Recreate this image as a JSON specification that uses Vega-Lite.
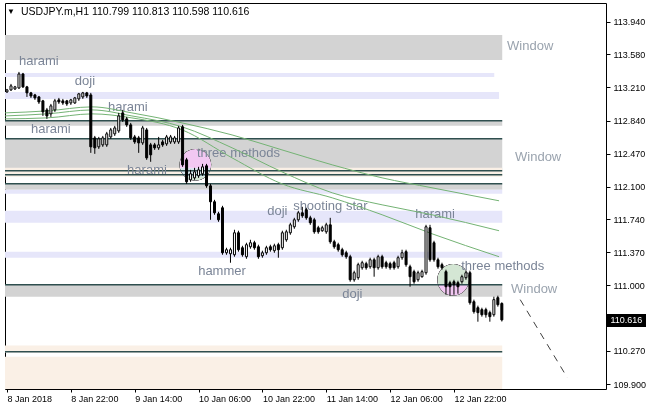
{
  "$schema": "https://vega.github.io/schema/vega-lite/v6.json",
  "width": 601,
  "height": 386,
  "padding": {"left": 3, "top": 3, "right": 0, "bottom": 0},
  "background": "white",
  "config": {
    "view": {"stroke": "black", "strokeWidth": 1, "fill": "white"},
    "axis": {"labelOverlap": false},
    "scale": {"continuousPadding": 0}
  },
  "datasets": {
    "bands": [
      {"x1": -0.5, "x2": 124.1, "p1": 113.795, "p2": 113.516, "k": "gray"},
      {"x1": -0.5, "x2": 122.1, "p1": 113.372, "p2": 113.327, "k": "lav"},
      {"x1": -0.5, "x2": 123.3, "p1": 113.160, "p2": 113.082, "k": "lav"},
      {"x1": -0.5, "x2": 124.1, "p1": 112.837, "p2": 112.781, "k": "gray"},
      {"x1": -0.5, "x2": 124.1, "p1": 112.636, "p2": 112.290, "k": "gray"},
      {"x1": -0.5, "x2": 124.1, "p1": 112.313, "p2": 112.212, "k": "linen"},
      {"x1": -0.5, "x2": 124.1, "p1": 112.134, "p2": 112.067, "k": "gray"},
      {"x1": -0.5, "x2": 124.1, "p1": 112.067, "p2": 112.023, "k": "lav"},
      {"x1": -0.5, "x2": 124.1, "p1": 111.833, "p2": 111.700, "k": "lav"},
      {"x1": -0.5, "x2": 124.1, "p1": 111.377, "p2": 111.310, "k": "lav"},
      {"x1": -0.5, "x2": 124.1, "p1": 111.009, "p2": 110.875, "k": "gray"},
      {"x1": -0.5, "x2": 124.1, "p1": 110.329, "p2": 110.251, "k": "linen"},
      {"x1": -0.5, "x2": 124.1, "p1": 110.206, "p2": 109.845, "k": "linen"}
    ],
    "levels": [
      {"x1": -0.5, "x2": 124.1, "p": 112.837},
      {"x1": -0.5, "x2": 124.1, "p": 112.636},
      {"x1": -0.5, "x2": 124.1, "p": 112.279},
      {"x1": -0.5, "x2": 124.1, "p": 112.235},
      {"x1": -0.5, "x2": 124.1, "p": 112.134},
      {"x1": -0.5, "x2": 124.1, "p": 111.009},
      {"x1": -0.5, "x2": 124.1, "p": 110.262}
    ],
    "circles": [
      {"i": 47.2, "p": 112.346},
      {"i": 111.8, "p": 111.064}
    ],
    "ma": [
      {"ma": "a", "i": -0.5, "p": 112.926}, {"ma": "a", "i": 10, "p": 112.948}, {"ma": "a", "i": 21.3, "p": 112.993}, {"ma": "a", "i": 31.3, "p": 112.926}, {"ma": "a", "i": 43.9, "p": 112.814}, {"ma": "a", "i": 56.4, "p": 112.680}, {"ma": "a", "i": 68.9, "p": 112.513}, {"ma": "a", "i": 81.5, "p": 112.346}, {"ma": "a", "i": 94, "p": 112.201}, {"ma": "a", "i": 106.5, "p": 112.090}, {"ma": "a", "i": 123.3, "p": 111.945},
      {"ma": "b", "i": -0.5, "p": 112.892}, {"ma": "b", "i": 10, "p": 112.915}, {"ma": "b", "i": 21.3, "p": 112.959}, {"ma": "b", "i": 31.3, "p": 112.892}, {"ma": "b", "i": 43.9, "p": 112.770}, {"ma": "b", "i": 56.4, "p": 112.536}, {"ma": "b", "i": 68.9, "p": 112.268}, {"ma": "b", "i": 81.5, "p": 112.034}, {"ma": "b", "i": 94, "p": 111.900}, {"ma": "b", "i": 106.5, "p": 111.789}, {"ma": "b", "i": 123.3, "p": 111.611},
      {"ma": "c", "i": -0.5, "p": 112.859}, {"ma": "c", "i": 10, "p": 112.870}, {"ma": "c", "i": 21.3, "p": 112.915}, {"ma": "c", "i": 31.3, "p": 112.870}, {"ma": "c", "i": 43.9, "p": 112.736}, {"ma": "c", "i": 56.4, "p": 112.424}, {"ma": "c", "i": 68.9, "p": 112.134}, {"ma": "c", "i": 81.5, "p": 111.978}, {"ma": "c", "i": 94, "p": 111.789}, {"ma": "c", "i": 106.5, "p": 111.577}, {"ma": "c", "i": 123.3, "p": 111.321}
    ],
    "forecast": [
      {"i": 128.6, "p": 110.842},
      {"i": 140.4, "p": 109.972}
    ],
    "patterns": [
      {"t": "harami", "i": 3, "p": 113.505},
      {"t": "doji", "i": 17, "p": 113.282},
      {"t": "harami", "i": 25.3, "p": 112.993},
      {"t": "harami", "i": 6, "p": 112.747},
      {"t": "three methods", "i": 47.6, "p": 112.480},
      {"t": "harami", "i": 30.1, "p": 112.290},
      {"t": "doji", "i": 65.2, "p": 111.833},
      {"t": "shooting star", "i": 71.7, "p": 111.889},
      {"t": "harami", "i": 102.3, "p": 111.800},
      {"t": "hammer", "i": 47.9, "p": 111.165},
      {"t": "three methods", "i": 113.8, "p": 111.221},
      {"t": "doji", "i": 84, "p": 110.908}
    ],
    "windows": [
      {"t": "Window", "i": 125.3, "p": 113.672},
      {"t": "Window", "i": 127.3, "p": 112.435},
      {"t": "Window", "i": 126.3, "p": 110.964}
    ],
    "header": [
      {"t": "▼", "i": 0, "p": 114.05, "s": "a"},
      {"t": "USDJPY.m,H1  110.799 110.813 110.598 110.616", "i": 3.5, "p": 114.05, "s": "b"}
    ],
    "candles": [
      {"i":0,"o":113.160,"h":113.193,"l":113.149,"c":113.182},
      {"i":1,"o":113.182,"h":113.249,"l":113.171,"c":113.227},
      {"i":2,"o":113.193,"h":113.227,"l":113.182,"c":113.216},
      {"i":3,"o":113.204,"h":113.383,"l":113.193,"c":113.360},
      {"i":4,"o":113.360,"h":113.372,"l":113.204,"c":113.216},
      {"i":5,"o":113.216,"h":113.227,"l":113.104,"c":113.149},
      {"i":6,"o":113.149,"h":113.160,"l":113.093,"c":113.115},
      {"i":7,"o":113.126,"h":113.138,"l":113.071,"c":113.093},
      {"i":8,"o":113.104,"h":113.115,"l":113.026,"c":113.048},
      {"i":9,"o":113.060,"h":113.071,"l":112.892,"c":112.937},
      {"i":10,"o":112.959,"h":112.981,"l":112.859,"c":112.892},
      {"i":11,"o":112.915,"h":113.026,"l":112.881,"c":113.004},
      {"i":12,"o":112.959,"h":113.082,"l":112.937,"c":113.060},
      {"i":13,"o":113.071,"h":113.093,"l":113.026,"c":113.048},
      {"i":14,"o":113.060,"h":113.082,"l":113.015,"c":113.037},
      {"i":15,"o":113.060,"h":113.071,"l":113.004,"c":113.026},
      {"i":16,"o":113.037,"h":113.082,"l":113.015,"c":113.071},
      {"i":17,"o":113.037,"h":113.104,"l":113.026,"c":113.093},
      {"i":18,"o":113.082,"h":113.149,"l":113.060,"c":113.138},
      {"i":19,"o":113.104,"h":113.160,"l":113.082,"c":113.149},
      {"i":20,"o":113.149,"h":113.160,"l":113.093,"c":113.115},
      {"i":21,"o":113.126,"h":113.149,"l":112.480,"c":112.547},
      {"i":22,"o":112.647,"h":112.669,"l":112.469,"c":112.536},
      {"i":23,"o":112.547,"h":112.658,"l":112.524,"c":112.636},
      {"i":24,"o":112.569,"h":112.669,"l":112.547,"c":112.647},
      {"i":25,"o":112.569,"h":112.714,"l":112.547,"c":112.692},
      {"i":26,"o":112.658,"h":112.758,"l":112.636,"c":112.736},
      {"i":27,"o":112.692,"h":112.781,"l":112.669,"c":112.758},
      {"i":28,"o":112.725,"h":112.926,"l":112.703,"c":112.892},
      {"i":29,"o":112.926,"h":112.959,"l":112.825,"c":112.848},
      {"i":30,"o":112.859,"h":112.881,"l":112.770,"c":112.792},
      {"i":31,"o":112.792,"h":112.814,"l":112.625,"c":112.647},
      {"i":32,"o":112.658,"h":112.680,"l":112.580,"c":112.602},
      {"i":33,"o":112.647,"h":112.669,"l":112.480,"c":112.591},
      {"i":34,"o":112.591,"h":112.781,"l":112.569,"c":112.758},
      {"i":35,"o":112.736,"h":112.758,"l":112.402,"c":112.424},
      {"i":36,"o":112.569,"h":112.591,"l":112.380,"c":112.458},
      {"i":37,"o":112.569,"h":112.591,"l":112.513,"c":112.536},
      {"i":38,"o":112.536,"h":112.658,"l":112.513,"c":112.569},
      {"i":39,"o":112.602,"h":112.625,"l":112.547,"c":112.569},
      {"i":40,"o":112.580,"h":112.680,"l":112.558,"c":112.658},
      {"i":41,"o":112.602,"h":112.680,"l":112.580,"c":112.658},
      {"i":42,"o":112.602,"h":112.669,"l":112.580,"c":112.647},
      {"i":43,"o":112.602,"h":112.781,"l":112.580,"c":112.758},
      {"i":44,"o":112.770,"h":112.792,"l":112.324,"c":112.346},
      {"i":45,"o":112.402,"h":112.424,"l":112.134,"c":112.157},
      {"i":46,"o":112.179,"h":112.290,"l":112.157,"c":112.246},
      {"i":47,"o":112.201,"h":112.313,"l":112.179,"c":112.268},
      {"i":48,"o":112.224,"h":112.324,"l":112.201,"c":112.290},
      {"i":49,"o":112.246,"h":112.357,"l":112.224,"c":112.324},
      {"i":50,"o":112.335,"h":112.357,"l":112.090,"c":112.112},
      {"i":51,"o":112.112,"h":112.134,"l":111.733,"c":111.934},
      {"i":52,"o":111.934,"h":111.956,"l":111.789,"c":111.811},
      {"i":53,"o":111.800,"h":111.822,"l":111.711,"c":111.733},
      {"i":54,"o":111.867,"h":111.889,"l":111.343,"c":111.365},
      {"i":55,"o":111.365,"h":111.421,"l":111.343,"c":111.399},
      {"i":56,"o":111.354,"h":111.421,"l":111.254,"c":111.399},
      {"i":57,"o":111.343,"h":111.622,"l":111.321,"c":111.588},
      {"i":58,"o":111.588,"h":111.611,"l":111.377,"c":111.399},
      {"i":59,"o":111.421,"h":111.443,"l":111.321,"c":111.343},
      {"i":60,"o":111.321,"h":111.477,"l":111.298,"c":111.455},
      {"i":61,"o":111.432,"h":111.510,"l":111.410,"c":111.477},
      {"i":62,"o":111.477,"h":111.499,"l":111.399,"c":111.421},
      {"i":63,"o":111.432,"h":111.455,"l":111.298,"c":111.321},
      {"i":64,"o":111.332,"h":111.388,"l":111.310,"c":111.365},
      {"i":65,"o":111.365,"h":111.443,"l":111.343,"c":111.421},
      {"i":66,"o":111.432,"h":111.455,"l":111.377,"c":111.399},
      {"i":67,"o":111.388,"h":111.466,"l":111.365,"c":111.443},
      {"i":68,"o":111.455,"h":111.477,"l":111.310,"c":111.399},
      {"i":69,"o":111.421,"h":111.611,"l":111.399,"c":111.588},
      {"i":70,"o":111.510,"h":111.622,"l":111.488,"c":111.599},
      {"i":71,"o":111.588,"h":111.700,"l":111.566,"c":111.677},
      {"i":72,"o":111.655,"h":111.755,"l":111.633,"c":111.733},
      {"i":73,"o":111.733,"h":111.833,"l":111.711,"c":111.811},
      {"i":74,"o":111.811,"h":111.878,"l":111.755,"c":111.778},
      {"i":75,"o":111.845,"h":111.867,"l":111.733,"c":111.755},
      {"i":76,"o":111.755,"h":111.778,"l":111.677,"c":111.700},
      {"i":77,"o":111.733,"h":111.755,"l":111.577,"c":111.599},
      {"i":78,"o":111.644,"h":111.666,"l":111.577,"c":111.599},
      {"i":79,"o":111.611,"h":111.666,"l":111.599,"c":111.644},
      {"i":80,"o":111.599,"h":111.700,"l":111.577,"c":111.677},
      {"i":81,"o":111.677,"h":111.755,"l":111.466,"c":111.488},
      {"i":82,"o":111.488,"h":111.510,"l":111.410,"c":111.432},
      {"i":83,"o":111.455,"h":111.477,"l":111.377,"c":111.399},
      {"i":84,"o":111.399,"h":111.421,"l":111.321,"c":111.343},
      {"i":85,"o":111.365,"h":111.388,"l":111.298,"c":111.321},
      {"i":86,"o":111.321,"h":111.343,"l":111.042,"c":111.064},
      {"i":87,"o":111.064,"h":111.165,"l":111.042,"c":111.142},
      {"i":88,"o":111.087,"h":111.254,"l":111.064,"c":111.232},
      {"i":89,"o":111.198,"h":111.276,"l":111.176,"c":111.254},
      {"i":90,"o":111.243,"h":111.265,"l":111.176,"c":111.198},
      {"i":91,"o":111.209,"h":111.310,"l":111.187,"c":111.287},
      {"i":92,"o":111.287,"h":111.310,"l":111.098,"c":111.198},
      {"i":93,"o":111.198,"h":111.343,"l":111.176,"c":111.321},
      {"i":94,"o":111.321,"h":111.343,"l":111.187,"c":111.209},
      {"i":95,"o":111.254,"h":111.276,"l":111.187,"c":111.209},
      {"i":96,"o":111.243,"h":111.265,"l":111.176,"c":111.198},
      {"i":97,"o":111.254,"h":111.276,"l":111.176,"c":111.198},
      {"i":98,"o":111.209,"h":111.332,"l":111.187,"c":111.310},
      {"i":99,"o":111.310,"h":111.399,"l":111.287,"c":111.365},
      {"i":100,"o":111.377,"h":111.399,"l":111.209,"c":111.232},
      {"i":101,"o":111.209,"h":111.232,"l":110.986,"c":111.098},
      {"i":102,"o":111.154,"h":111.176,"l":111.020,"c":111.042},
      {"i":103,"o":111.064,"h":111.165,"l":111.042,"c":111.142},
      {"i":104,"o":111.098,"h":111.176,"l":111.087,"c":111.154},
      {"i":105,"o":111.142,"h":111.677,"l":111.120,"c":111.655},
      {"i":106,"o":111.644,"h":111.677,"l":111.265,"c":111.287},
      {"i":107,"o":111.477,"h":111.499,"l":111.265,"c":111.287},
      {"i":108,"o":111.287,"h":111.310,"l":111.187,"c":111.209},
      {"i":109,"o":111.232,"h":111.254,"l":111.176,"c":111.198},
      {"i":110,"o":111.154,"h":111.176,"l":110.897,"c":110.986},
      {"i":111,"o":111.031,"h":111.053,"l":110.886,"c":110.986},
      {"i":112,"o":111.042,"h":111.064,"l":110.897,"c":111.009},
      {"i":113,"o":111.031,"h":111.053,"l":110.908,"c":110.986},
      {"i":114,"o":111.042,"h":111.120,"l":111.020,"c":111.098},
      {"i":115,"o":111.087,"h":111.165,"l":111.064,"c":111.142},
      {"i":116,"o":111.142,"h":111.165,"l":110.786,"c":110.808},
      {"i":117,"o":110.819,"h":110.842,"l":110.686,"c":110.708},
      {"i":118,"o":110.752,"h":110.775,"l":110.596,"c":110.697},
      {"i":119,"o":110.730,"h":110.752,"l":110.652,"c":110.674},
      {"i":120,"o":110.730,"h":110.752,"l":110.641,"c":110.674},
      {"i":121,"o":110.697,"h":110.719,"l":110.596,"c":110.652},
      {"i":122,"o":110.674,"h":110.875,"l":110.652,"c":110.842},
      {"i":123,"o":110.864,"h":110.886,"l":110.764,"c":110.786},
      {"i":124,"o":110.799,"h":110.813,"l":110.598,"c":110.616}
    ]
  },
  "resolve": {"scale": {"y": "independent"}, "axis": {"y": "independent"}},
  "layer": [
    {
      "layer": [
        {
          "data": {"name": "bands"},
          "mark": {"type": "rect"},
          "encoding": {
            "x": {
              "field": "x1", "type": "quantitative", "title": null,
              "scale": {"domain": [-0.5, 150.1], "nice": false, "zero": false, "padding": 0},
              "axis": {
                "values": [0, 16, 32, 48, 64, 80, 96, 112],
                "labelExpr": "['8 Jan 2018','8 Jan 22:00','9 Jan 14:00','10 Jan 06:00','10 Jan 22:00','11 Jan 14:00','12 Jan 06:00','12 Jan 22:00'][round(datum.value/16)]",
                "labelAlign": "left", "labelPadding": 2, "tickSize": 3, "tickColor": "black",
                "domain": false, "grid": false, "labelFont": "Liberation Sans", "labelFontSize": 9,
                "labelColor": "black", "labelOverlap": false, "labelFlush": false, "labelBound": false
              }
            },
            "x2": {"field": "x2"},
            "y": {
              "field": "p1", "type": "quantitative", "title": null,
              "scale": {"domain": [109.845, 114.152], "nice": false, "zero": false, "padding": 0},
              "axis": {
                "orient": "right",
                "values": [113.94, 113.21, 112.47, 111.74, 111.0, 110.27],
                "format": ".3f", "domain": false, "grid": false, "tickColor": "black", "tickSize": 4,
                "labelPadding": 3, "labelColor": "black",
                "labelFont": "Liberation Sans", "labelFontSize": 9, "labelOverlap": false, "labelFlush": false, "labelBound": false
              }
            },
            "y2": {"field": "p2"},
            "color": {
              "field": "k", "type": "nominal", "legend": null,
              "scale": {"domain": ["gray", "lav", "linen"], "range": ["#d3d3d3", "#e6e6fa", "#faf0e6"]}
            }
          }
        },
        {
          "data": {"name": "circles"},
          "mark": {"type": "point", "shape": "circle", "filled": true, "size": 1000, "color": "#daf8da", "opacity": 1, "blend": "difference"},
          "encoding": {
            "x": {"field": "i", "type": "quantitative", "title": null},
            "y": {"field": "p", "type": "quantitative", "title": null}
          }
        },
        {
          "data": {"name": "circles"},
          "mark": {"type": "point", "shape": "circle", "filled": true, "size": 1000, "color": "#f9edf9", "opacity": 1, "blend": "difference"},
          "encoding": {
            "x": {"field": "i", "type": "quantitative", "title": null},
            "y": {"field": "p", "type": "quantitative", "title": null}
          }
        },
        {
          "data": {"name": "levels"},
          "mark": {"type": "rule", "color": "#2f4f4f", "strokeWidth": 1.5},
          "encoding": {
            "x": {"field": "x1", "type": "quantitative", "title": null},
            "x2": {"field": "x2"},
            "y": {"field": "p", "type": "quantitative", "title": null}
          }
        },
        {
          "data": {"name": "patterns"},
          "mark": {"type": "text", "align": "left", "baseline": "middle", "font": "Liberation Sans", "fontSize": 13, "color": "#7b8597"},
          "encoding": {
            "x": {"field": "i", "type": "quantitative", "title": null},
            "y": {"field": "p", "type": "quantitative", "title": null},
            "text": {"field": "t"}
          }
        },
        {
          "data": {"name": "windows"},
          "mark": {"type": "text", "align": "left", "baseline": "middle", "font": "Liberation Sans", "fontSize": 13, "color": "#9aa3ae"},
          "encoding": {
            "x": {"field": "i", "type": "quantitative", "title": null},
            "y": {"field": "p", "type": "quantitative", "title": null},
            "text": {"field": "t"}
          }
        },
        {
          "data": {"name": "ma"},
          "mark": {"type": "line", "color": "#74b374", "strokeWidth": 1, "interpolate": "monotone"},
          "encoding": {
            "x": {"field": "i", "type": "quantitative", "title": null},
            "y": {"field": "p", "type": "quantitative", "title": null},
            "detail": {"field": "ma"}
          }
        },
        {
          "data": {"name": "forecast"},
          "mark": {"type": "line", "color": "#404040", "strokeWidth": 1, "strokeDash": [7, 6]},
          "encoding": {
            "x": {"field": "i", "type": "quantitative", "title": null},
            "y": {"field": "p", "type": "quantitative", "title": null}
          }
        },
        {
          "data": {"name": "candles"},
          "mark": {"type": "rule", "color": "black", "strokeWidth": 1},
          "encoding": {
            "x": {"field": "i", "type": "quantitative", "title": null},
            "y": {"field": "l", "type": "quantitative", "title": null},
            "y2": {"field": "h"}
          }
        },
        {
          "data": {"name": "candles"},
          "mark": {"type": "bar", "size": 2, "stroke": "black", "strokeWidth": 1},
          "encoding": {
            "x": {"field": "i", "type": "quantitative", "title": null},
            "y": {"field": "o", "type": "quantitative", "title": null},
            "y2": {"field": "c"},
            "fill": {"condition": {"test": "datum.c >= datum.o", "value": "white"}, "value": "black"}
          }
        },
        {
          "data": {"name": "header"},
          "mark": {"type": "text", "align": "left", "baseline": "middle", "font": "Liberation Sans", "fontSize": 10, "color": "black"},
          "encoding": {
            "x": {"field": "i", "type": "quantitative", "title": null},
            "y": {"field": "p", "type": "quantitative", "title": null},
            "text": {"field": "t"},
            "size": {"field": "s", "type": "nominal", "legend": null, "scale": {"domain": ["a", "b"], "range": [8, 10.5]}}
          }
        }
      ]
    },
    {
      "mark": {"type": "rule", "strokeOpacity": 0},
      "encoding": {
        "y": {
          "datum": 111.37, "type": "quantitative", "title": null,
          "scale": {"domain": [109.845, 114.152], "nice": false, "zero": false},
          "axis": {
            "orient": "right", "values": [113.58, 112.84, 112.1, 111.37, 109.9], "format": ".3f",
            "domain": false, "grid": false, "tickColor": "black", "tickSize": 4,
            "labelPadding": 3, "labelColor": "black", "labelFont": "Liberation Sans", "labelFontSize": 9,
            "labelOverlap": false, "labelFlush": false, "labelBound": false
          }
        }
      }
    },
    {
      "mark": {"type": "rule", "color": "#c0c0c0", "strokeWidth": 1},
      "encoding": {
        "y": {
          "datum": 110.616, "type": "quantitative", "title": null,
          "scale": {"domain": [109.845, 114.152], "nice": false, "zero": false},
          "axis": {
            "orient": "right", "values": [110.616], "format": ".3f", "domain": false, "grid": false,
            "tickSize": 42, "tickWidth": 13, "tickColor": "black",
            "labelPadding": -38, "labelColor": "white", "labelFont": "Liberation Sans", "labelFontSize": 9,
            "labelOverlap": false, "labelFlush": false, "labelBound": false
          }
        }
      }
    }
  ]
}
